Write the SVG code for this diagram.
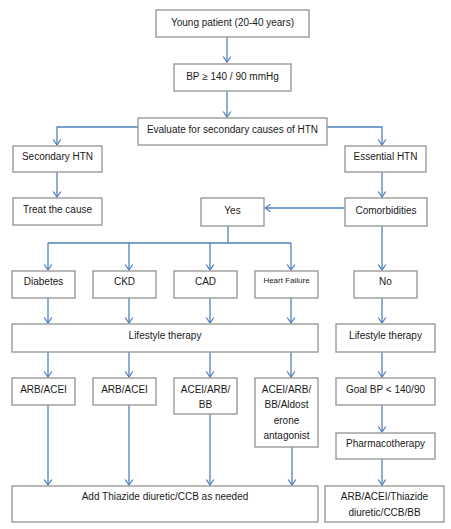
<svg xmlns="http://www.w3.org/2000/svg" width="451" height="529" viewBox="0 0 451 529">
<style>
.box{fill:#fff;stroke:#9a9a9a;stroke-width:1.4}
.t{font-family:"Liberation Sans",Arial,sans-serif;font-size:10px;fill:#1a1a1a;text-anchor:middle}
.s{font-size:8px}
.c{fill:none;stroke:#4f81bd;stroke-width:1.3}
</style>
<defs>
<marker id="a" viewBox="-7 -5 8 10" markerWidth="8" markerHeight="10" refX="0" refY="0" orient="auto" markerUnits="userSpaceOnUse">
<path d="M-5.5,-3.8 L0,0 L-5.5,3.8" fill="none" stroke="#4f81bd" stroke-width="1.3"/>
</marker>
</defs>
<rect width="451" height="529" fill="#fff"/>
<g id="connectors" class="c">
<path d="M227,37 V62" marker-end="url(#a)"/>
<path d="M227,91 V117" marker-end="url(#a)"/>
<path d="M138,127 H57 V145" marker-end="url(#a)"/>
<path d="M327,127 H382 V145" marker-end="url(#a)"/>
<path d="M57,172 V197" marker-end="url(#a)"/>
<path d="M382,172 V197" marker-end="url(#a)"/>
<path d="M345,208 H265" marker-end="url(#a)"/>
<path d="M228,226 V243 M48,243 H291"/>
<path d="M48,243 V270" marker-end="url(#a)"/>
<path d="M129,243 V270" marker-end="url(#a)"/>
<path d="M210,243 V270" marker-end="url(#a)"/>
<path d="M291,243 V270" marker-end="url(#a)"/>
<path d="M382,226 V270" marker-end="url(#a)"/>
<path d="M48,298 V323" marker-end="url(#a)"/>
<path d="M129,298 V323" marker-end="url(#a)"/>
<path d="M210,298 V323" marker-end="url(#a)"/>
<path d="M291,298 V323" marker-end="url(#a)"/>
<path d="M382,298 V323" marker-end="url(#a)"/>
<path d="M48,352 V377" marker-end="url(#a)"/>
<path d="M129,352 V377" marker-end="url(#a)"/>
<path d="M210,352 V377" marker-end="url(#a)"/>
<path d="M291,352 V377" marker-end="url(#a)"/>
<path d="M382,352 V377" marker-end="url(#a)"/>
<path d="M382,405 V432" marker-end="url(#a)"/>
<path d="M382,459 V485" marker-end="url(#a)"/>
<path d="M48,405 V485" marker-end="url(#a)"/>
<path d="M129,405 V485" marker-end="url(#a)"/>
<path d="M210,414 V485" marker-end="url(#a)"/>
<path d="M292,447 V485" marker-end="url(#a)"/>
</g>
<g id="young"><rect class="box" x="156" y="10" width="153" height="27"/><text class="t" x="232.5" y="25.5">Young patient (20-40 years)</text></g>
<g id="bp"><rect class="box" x="174" y="64" width="117" height="27"/><text class="t" x="232.5" y="79.5">BP ≥ 140 / 90 mmHg</text></g>
<g id="evaluate"><rect class="box" x="138" y="118" width="189" height="27"/><text class="t" x="232.5" y="132.5">Evaluate for secondary causes of HTN</text></g>
<g id="secondary"><rect class="box" x="13" y="146" width="89" height="26"/><text class="t" x="57.5" y="159.5">Secondary HTN</text></g>
<g id="essential"><rect class="box" x="345" y="146" width="81" height="26"/><text class="t" x="385.5" y="159.5">Essential HTN</text></g>
<g id="treat"><rect class="box" x="13" y="198" width="89" height="27"/><text class="t" x="57.5" y="212.5">Treat the cause</text></g>
<g id="yes"><rect class="box" x="201" y="198" width="63" height="28"/><text class="t" x="232.5" y="213.5">Yes</text></g>
<g id="comorbidities"><rect class="box" x="345" y="198" width="82" height="28"/><text class="t" x="386" y="213.5">Comorbidities</text></g>
<g id="diabetes"><rect class="box" x="12" y="271" width="63" height="27"/><text class="t" x="43.5" y="285">Diabetes</text></g>
<g id="ckd"><rect class="box" x="93" y="271" width="63" height="27"/><text class="t" x="124.5" y="285">CKD</text></g>
<g id="cad"><rect class="box" x="174" y="271" width="63" height="27"/><text class="t" x="205.5" y="285">CAD</text></g>
<g id="hf"><rect class="box" x="255" y="271" width="63" height="27"/><text class="t s" x="286.5" y="283">Heart Failure</text></g>
<g id="no"><rect class="box" x="354" y="271" width="63" height="27"/><text class="t" x="385.5" y="285">No</text></g>
<g id="lifestyle1"><rect class="box" x="12" y="324" width="306" height="28"/><text class="t" x="165" y="339">Lifestyle therapy</text></g>
<g id="lifestyle2"><rect class="box" x="336" y="324" width="99" height="28"/><text class="t" x="385.5" y="339">Lifestyle therapy</text></g>
<g id="arb1"><rect class="box" x="12" y="378" width="63" height="27"/><text class="t" x="43.5" y="392.5">ARB/ACEI</text></g>
<g id="arb2"><rect class="box" x="93" y="378" width="63" height="27"/><text class="t" x="124.5" y="392.5">ARB/ACEI</text></g>
<g id="acei1"><rect class="box" x="174" y="378" width="63" height="36"/><text class="t" x="205.5" y="392.5">ACEI/ARB/<tspan x="205.5" dy="15.5">BB</tspan></text></g>
<g id="acei2"><rect class="box" x="255" y="378" width="63" height="69"/><text class="t" x="286.5" y="392.5">ACEI/ARB/<tspan x="286.5" dy="15.5">BB/Aldost</tspan><tspan x="286.5" dy="15.5">erone</tspan><tspan x="286.5" dy="15.5">antagonist</tspan></text></g>
<g id="goal"><rect class="box" x="336" y="378" width="99" height="27"/><text class="t" x="385.5" y="392.5">Goal BP &lt; 140/90</text></g>
<g id="pharma"><rect class="box" x="336" y="433" width="99" height="26"/><text class="t" x="385.5" y="446.5">Pharmacotherapy</text></g>
<g id="thiazide"><rect class="box" x="12" y="486" width="306" height="36"/><text class="t" x="165" y="500">Add Thiazide diuretic/CCB as needed</text></g>
<g id="final"><rect class="box" x="325" y="486" width="119" height="36"/><text class="t" x="384.5" y="500">ARB/ACEI/Thiazide<tspan x="384.5" dy="16">diuretic/CCB/BB</tspan></text></g>
</svg>
